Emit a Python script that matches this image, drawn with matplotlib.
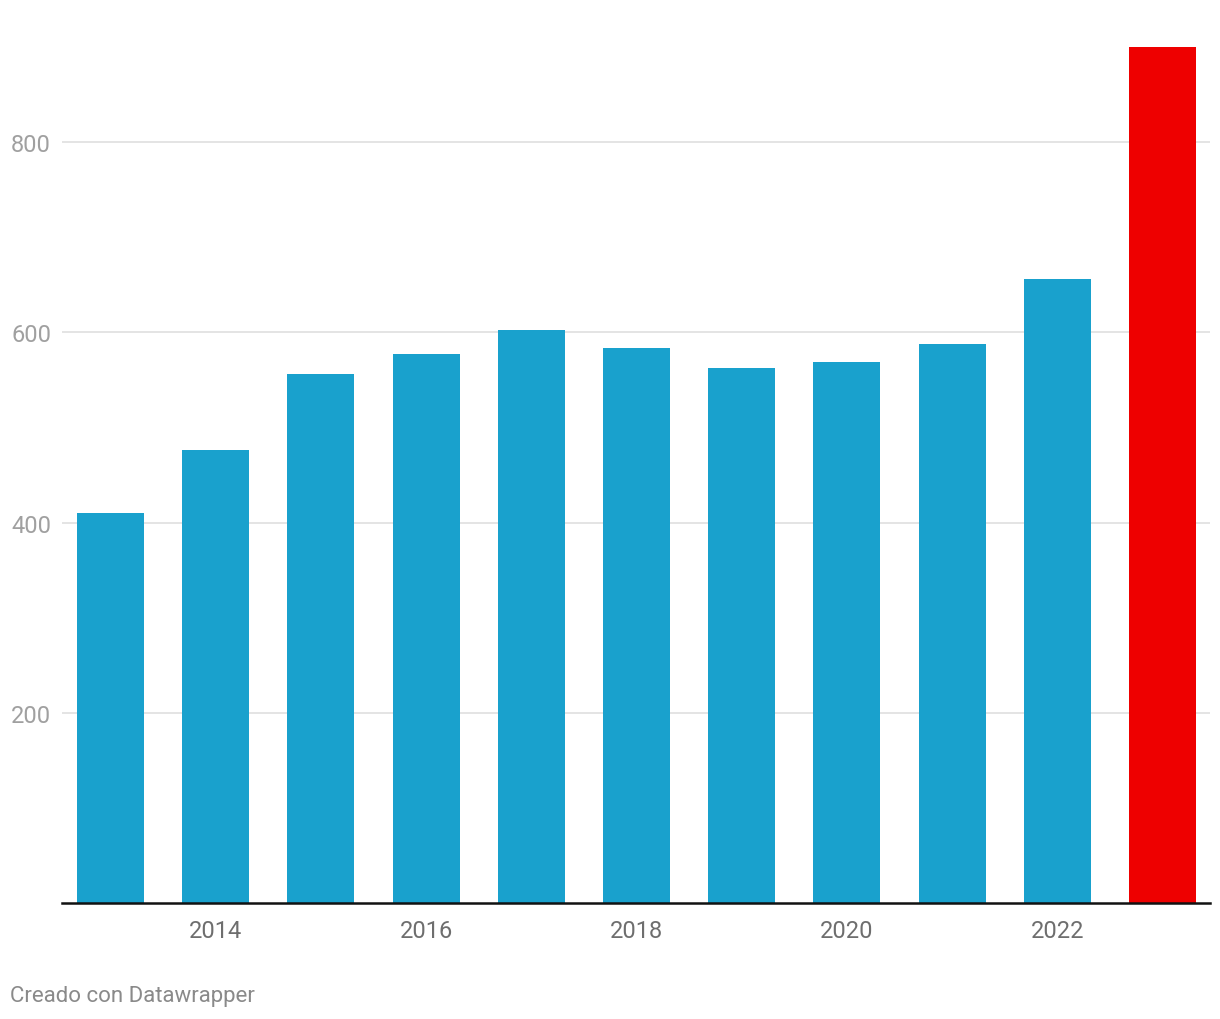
import matplotlib
matplotlib.use("Agg")
from matplotlib import pyplot as plt

years = [2013, 2014, 2015, 2016, 2017, 2018, 2019, 2020, 2021, 2022, 2023]
values = [410, 476, 556, 577, 602, 584, 563, 569, 588, 656, 900]
colors = ["#19a1cd"] * 10 + ["#ee0000"]

y_ticks = [200, 400, 600, 800]
x_ticks = [2014, 2016, 2018, 2020, 2022]

plt.rcParams["font.family"] = ["Roboto", "DejaVu Sans"]

fig = plt.figure(figsize=(12.2, 10.2), dpi=100)
ax = fig.add_axes([62 / 1220, (1020 - 904) / 1020, (1210 - 62) / 1220, (904 - 48) / 1020])

ax.bar(years, values, width=0.637, color=colors, zorder=2)

ax.set_xlim(2012.54, 2023.45)
ax.set_ylim(0, 900)

ax.set_yticks(y_ticks)
ax.set_yticklabels([str(v) for v in y_ticks])
ax.set_xticks(x_ticks)
ax.set_xticklabels([str(v) for v in x_ticks])

ax.grid(axis="y", color="#e2e2e2", linewidth=1.3, zorder=0)
for s in ["top", "right", "left"]:
    ax.spines[s].set_visible(False)
ax.spines["bottom"].set_color("#111111")
ax.spines["bottom"].set_linewidth(1.8)
ax.spines["bottom"].set_zorder(3)

ax.tick_params(axis="y", length=0, pad=36.7, labelsize=17, labelcolor="#a0a0a0")
ax.tick_params(axis="x", length=0, pad=11.5, labelsize=17, labelcolor="#6e6e6e")
for label in ax.get_yticklabels():
    label.set_horizontalalignment("left")

fig.text(10 / 1220, 1 - 997 / 1020, "Creado con Datawrapper", fontsize=16,
         color="#8a8a8a", ha="left", va="center")

fig.savefig("out.png", dpi=100, facecolor="white")
